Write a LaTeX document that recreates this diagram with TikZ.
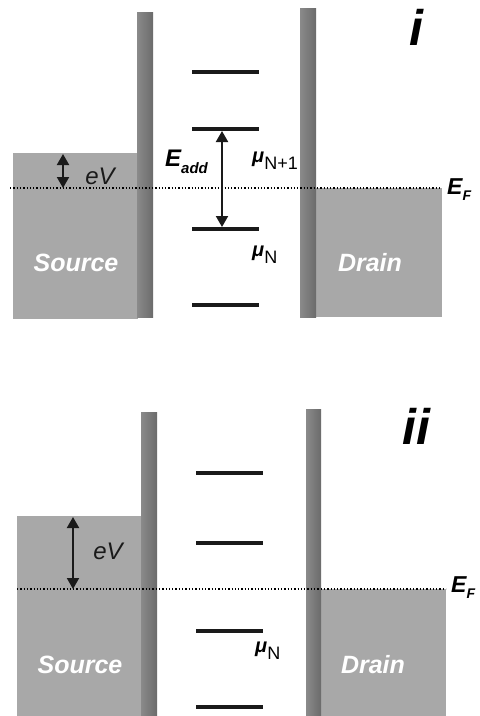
\documentclass[tikz,border=0pt]{standalone}
\usepackage{fontspec}
\setmainfont{Liberation Sans}
\usetikzlibrary{arrows.meta}
\definecolor{metal}{HTML}{A8A8A8}
\definecolor{barrier}{HTML}{6B6B6B}
\definecolor{barrieredge}{HTML}{8A8A8A}
\definecolor{lev}{HTML}{1A1A1A}
\begin{document}
\begin{tikzpicture}[x=1pt,y=-1pt,
  metalbox/.style={fill=metal,draw=none},
  barrierbar/.style={left color=barrieredge,right color=barrier,draw=none},
  levelline/.style={draw=lev,line width=4pt},
  fermiline/.style={draw=black,line width=1.3pt,dotted},
  dblarrow/.style={draw=lev,line width=2pt,{Triangle[length=11pt,width=12pt]}-{Triangle[length=11pt,width=12pt]}},
  metallabel/.style={text=white,inner sep=0pt,font=\fontsize{25}{25}\selectfont\bfseries\itshape},
  panellabel/.style={inner sep=0pt,font=\fontsize{50}{50}\selectfont\bfseries\itshape},
  evlabel/.style={inner sep=0pt,text=lev,font=\fontsize{24}{24}\selectfont\itshape},
  mulabel/.style={inner sep=0pt,anchor=west},
  bigE/.style={inner sep=0pt,anchor=west}
]
\useasboundingbox (0,0) rectangle (480,716);
\fill[white] (0,0) rectangle (480,716);

% ---------------- panel i ----------------
\fill[metalbox] (13,153) rectangle (138,319);
\fill[metalbox] (315,188) rectangle (442,317);
\fill[barrierbar] (137,12) rectangle (153,317);
\fill[barrierbar] (300,8) rectangle (316,317);
\draw[fermiline] (10,188) -- (442,188);

\draw[levelline] (192,72) -- (259,72);
\draw[levelline] (192,129) -- (259,129);
\draw[levelline] (192,229) -- (259,229);
\draw[levelline] (192,305) -- (259,305);

\coordinate (a1top) at (222,131);
\coordinate (a1bot) at (222,227);
\draw[dblarrow] (a1top) -- (a1bot);
\coordinate (v1top) at (63,154);
\coordinate (v1bot) at (63,188);
\draw[dblarrow] (v1top) -- (v1bot);

\node[metallabel] (src1) at (76,263) {Source};
\node[metallabel] (drn1) at (370,263) {Drain};
\node[panellabel] (pi) at (416,27) {i};
\node[evlabel] (ev1) at (100,176) {eV};
\node[bigE] (eadd) at (165,162) {\fontsize{24}{24}\selectfont\bfseries\itshape E\raisebox{-7pt}{\fontsize{15}{15}\selectfont add}};
\node[bigE] (ef1) at (447,190) {\fontsize{23}{23}\selectfont\bfseries\itshape E\raisebox{-6pt}{\fontsize{14}{14}\selectfont F}};
\node[mulabel] (mun1) at (252,161) {\fontsize{20}{20}\selectfont\bfseries\itshape μ\raisebox{-7pt}{\mdseries\upshape\fontsize{18}{18}\selectfont N+1}};
\node[mulabel] (mu1) at (252,255) {\fontsize{20}{20}\selectfont\bfseries\itshape μ\raisebox{-7pt}{\mdseries\upshape\fontsize{18}{18}\selectfont N}};

% ---------------- panel ii ----------------
\fill[metalbox] (17,516) rectangle (142,716);
\fill[metalbox] (320,589) rectangle (446,716);
\fill[barrierbar] (141,412) rectangle (157,716);
\fill[barrierbar] (306,409) rectangle (321,716);
\draw[fermiline] (17,589) -- (446,589);

\draw[levelline] (196,473) -- (263,473);
\draw[levelline] (196,543) -- (263,543);
\draw[levelline] (196,631) -- (263,631);
\draw[levelline] (196,707) -- (263,707);

\coordinate (v2top) at (73,517);
\coordinate (v2bot) at (73,589);
\draw[dblarrow] (v2top) -- (v2bot);

\node[metallabel] (src2) at (80,665) {Source};
\node[metallabel] (drn2) at (373,665) {Drain};
\node[panellabel] (pii) at (416,426) {ii};
\node[evlabel] (ev2) at (108,551) {eV};
\node[bigE] (ef2) at (451,588) {\fontsize{23}{23}\selectfont\bfseries\itshape E\raisebox{-6pt}{\fontsize{14}{14}\selectfont F}};
\node[mulabel] (mu2) at (255,651) {\fontsize{20}{20}\selectfont\bfseries\itshape μ\raisebox{-7pt}{\mdseries\upshape\fontsize{18}{18}\selectfont N}};
\end{tikzpicture}
\end{document}
